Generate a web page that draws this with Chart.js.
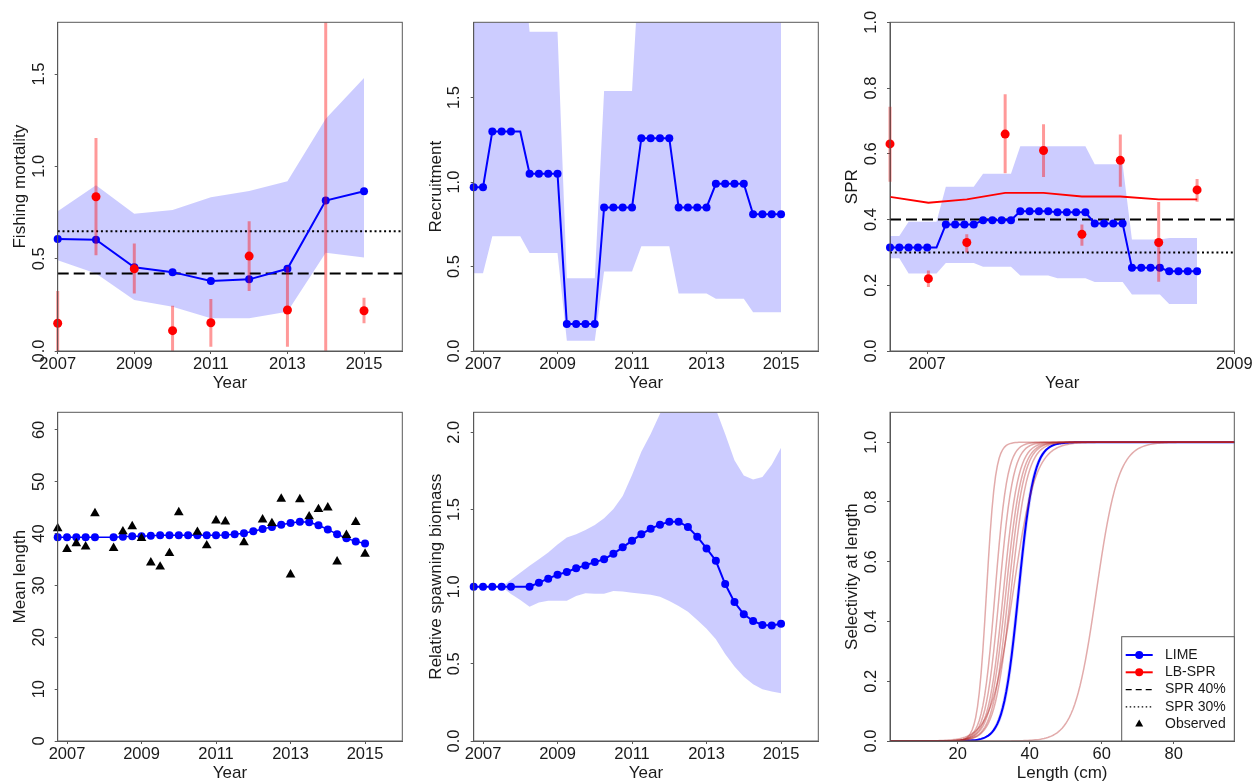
<!DOCTYPE html>
<html>
<head>
<meta charset="utf-8">
<script src="https://cdn.jsdelivr.net/npm/chart.js@4.4.1/dist/chart.umd.min.js"></script>
<style>
  html, body { margin: 0; padding: 0; background: #ffffff; width: 1255px; height: 782px; overflow: hidden; }
  canvas { position: absolute; }
</style>
</head>
<body>
<canvas id="cF"></canvas>
<canvas id="cRec"></canvas>
<canvas id="cSpr"></canvas>
<canvas id="cMl"></canvas>
<canvas id="cSb"></canvas>
<canvas id="cSel"></canvas>
<script>
// ---------- data ----------
const years = [2007, 2008, 2009, 2010, 2011, 2012, 2013, 2014, 2015];
const quarters = [2006.75, 2007, 2007.25, 2007.5, 2007.75, 2008, 2008.25, 2008.5, 2008.75, 2009,
  2009.25, 2009.5, 2009.75, 2010, 2010.25, 2010.5, 2010.75, 2011, 2011.25, 2011.5, 2011.75, 2012,
  2012.25, 2012.5, 2012.75, 2013, 2013.25, 2013.5, 2013.75, 2014, 2014.25, 2014.5, 2014.75, 2015];
const unmarkedQuarter = 6; // 1-based position of the quarter drawn without a marker
const yearTicks = [2007, 2009, 2011, 2013, 2015];
const yearTickLabels = ['2007', '2009', '2011', '2013', '2015'];

// Fishing mortality
const limeF   = [0.607, 0.603, 0.453, 0.427, 0.379, 0.388, 0.445, 0.815, 0.865];
const limeFLo = [0.492, 0.420, 0.276, 0.240, 0.177, 0.177, 0.213, 0.532, 0.507];
const limeFHi = [0.757, 0.898, 0.743, 0.763, 0.833, 0.867, 0.919, 1.258, 1.478];
const lbF     = [0.150, 0.835, 0.445, 0.110, 0.153, 0.514, 0.222, 2.400, 0.218];
const lbFLo   = [0.000, 0.519, 0.312, 0.000, 0.023, 0.325, 0.023, 0.000, 0.150];
const lbFHi   = [0.325, 1.154, 0.582, 0.245, 0.281, 0.703, 0.456, 5.000, 0.288];
const fAtSpr40 = 0.42;
const fAtSpr30 = 0.648;

// Recruitment (quarterly)
const recruit   = [0.97, 0.97, 1.30, 1.30, 1.30, 1.30, 1.05, 1.05, 1.05, 1.05, 0.16, 0.16, 0.16, 0.16,
  0.85, 0.85, 0.85, 0.85, 1.26, 1.26, 1.26, 1.26, 0.85, 0.85, 0.85, 0.85, 0.99, 0.99, 0.99, 0.99,
  0.81, 0.81, 0.81, 0.81];
const recruitHi = [2.5, 2.5, 2.5, 2.5, 2.5, 2.5, 1.89, 1.89, 1.89, 1.89, 0.43, 0.43, 0.43, 0.43,
  1.54, 1.54, 1.54, 1.54, 2.5, 2.5, 2.5, 2.5, 2.5, 2.5, 2.5, 2.5, 2.5, 2.5, 2.5, 2.5,
  2.5, 2.5, 2.5, 2.5];
const recruitLo = [0.46, 0.46, 0.68, 0.68, 0.68, 0.68, 0.58, 0.58, 0.58, 0.58, 0.06, 0.06, 0.06, 0.06,
  0.47, 0.47, 0.47, 0.47, 0.62, 0.62, 0.62, 0.62, 0.34, 0.34, 0.34, 0.34, 0.31, 0.31, 0.31, 0.31,
  0.23, 0.23, 0.23, 0.23];

// SPR (time step index axis)
const sprStep = [1, 2, 3, 4, 5, 6, 7, 8, 9, 10, 11, 12, 13, 14, 15, 16, 17, 18, 19, 20,
  21, 22, 23, 24, 25, 26, 27, 28, 29, 30, 31, 32, 33, 34];
const sprTickAt = [5, 38];
const sprTickLabels = ['2007', '2009'];
const limeSpr   = [0.315, 0.315, 0.315, 0.315, 0.315, 0.315, 0.385, 0.385, 0.385, 0.385,
  0.398, 0.398, 0.398, 0.398, 0.425, 0.425, 0.425, 0.425, 0.422, 0.422, 0.422, 0.422,
  0.388, 0.388, 0.388, 0.388, 0.253, 0.253, 0.253, 0.253, 0.243, 0.243, 0.243, 0.243];
const limeSprHi = [0.350, 0.350, 0.393, 0.393, 0.393, 0.393, 0.500, 0.500, 0.500, 0.500,
  0.539, 0.539, 0.539, 0.539, 0.623, 0.623, 0.623, 0.623, 0.623, 0.623, 0.623, 0.623,
  0.568, 0.568, 0.568, 0.568, 0.339, 0.339, 0.339, 0.339, 0.344, 0.344, 0.344, 0.344];
const limeSprLo = [0.282, 0.282, 0.236, 0.236, 0.236, 0.236, 0.268, 0.268, 0.268, 0.268,
  0.256, 0.256, 0.256, 0.256, 0.230, 0.230, 0.230, 0.230, 0.221, 0.221, 0.221, 0.221,
  0.210, 0.210, 0.210, 0.210, 0.172, 0.172, 0.172, 0.172, 0.143, 0.143, 0.143, 0.143];
const lbStep    = [1, 5.125, 9.25, 13.375, 17.5, 21.625, 25.75, 29.875, 34];
const lbSpr     = [0.630, 0.220, 0.330, 0.660, 0.610, 0.355, 0.580, 0.330, 0.490];
const lbSprLo   = [0.515, 0.195, 0.300, 0.541, 0.529, 0.320, 0.500, 0.211, 0.454];
const lbSprHi   = [0.743, 0.245, 0.355, 0.781, 0.690, 0.385, 0.659, 0.453, 0.523];
const lbSprLine = [0.469, 0.451, 0.461, 0.481, 0.481, 0.470, 0.470, 0.461, 0.461];
const spr40 = 0.40;
const spr30 = 0.30;

// Mean length (quarterly)
const limeMeanLen = [39.3, 39.3, 39.3, 39.3, 39.3, 39.3, 39.3, 39.4, 39.5, 39.5, 39.6, 39.7, 39.7,
  39.7, 39.7, 39.7, 39.7, 39.7, 39.75, 39.9, 40.06, 40.45, 40.9, 41.3, 41.7, 42.06, 42.3, 42.2,
  41.6, 40.8, 39.9, 39.1, 38.5, 38.1];
const obsMeanLen = [41.0, 37.0, 38.1, 37.5, 43.9, null, 37.2, 40.4, 41.4, 39.1, 34.4, 33.6, 36.2,
  44.1, null, 40.3, 37.7, 42.5, 42.3, null, 38.3, null, 42.7, 42.0, 46.7, 32.1, 46.6, 43.3,
  44.7, 45.0, 34.6, 39.7, 42.2, 36.1];

// Relative spawning biomass (quarterly)
const relSb   = [1.0, 1.0, 1.0, 1.0, 1.0, 1.0, 1.0, 1.026, 1.052, 1.078, 1.095, 1.119, 1.138, 1.16,
  1.177, 1.214, 1.255, 1.298, 1.339, 1.376, 1.402, 1.421, 1.421, 1.387, 1.324, 1.248, 1.168,
  1.017, 0.90, 0.821, 0.778, 0.752, 0.749, 0.76];
const relSbHi = [1.0, 1.0, 1.0, 1.0, 1.045, 1.09, 1.135, 1.177, 1.222, 1.274, 1.318, 1.34, 1.367,
  1.40, 1.443, 1.503, 1.587, 1.724, 1.875, 1.99, 2.12, 2.3, 2.4, 2.4, 2.4, 2.3, 2.15, 1.99, 1.82,
  1.72, 1.695, 1.71, 1.79, 1.90];
const relSbLo = [1.0, 1.0, 1.0, 1.0, 0.952, 0.914, 0.870, 0.898, 0.909, 0.909, 0.909, 0.94, 0.957,
  0.955, 0.955, 0.972, 0.968, 0.961, 0.955, 0.948, 0.935, 0.907, 0.875, 0.838, 0.784, 0.728,
  0.659, 0.564, 0.482, 0.417, 0.367, 0.335, 0.32, 0.309];

// Selectivity at length: logistic curves given by length at 50% and 95% selectivity
const lbSelS50 = [28.0, 30.4, 31.6, 32.7, 33.4, 34.1, 34.8, 58.5, 35.4];
const lbSelS95 = [31.6, 35.4, 37.2, 38.8, 39.8, 40.5, 41.5, 67.5, 44.5];
const limeSelS50 = 36.9, limeSelS95 = 43.1;
const limeSelS50Lo = 36.4, limeSelS50Hi = 37.4;
const lengthMin = 1, lengthMax = 97, lengthStep = 0.5;

const legendLabels = ['LIME', 'LB-SPR', 'SPR 40%', 'SPR 30%', 'Observed'];

// ---------- styling ----------
const BLUE = '#0000FF', RED = '#FF0000';
const BAND = 'rgba(0,0,255,0.2)', ERR = 'rgba(255,0,0,0.4)', SEL_RED = 'rgba(178,34,34,0.38)';
const FRAME = '#595959', TXT = '#1a1a1a';
const FONT = '"Liberation Sans", Arial, Helvetica, sans-serif';
Chart.defaults.font.family = FONT;
Chart.defaults.color = TXT;

// ---------- helpers ----------
const pts = (xs, ys) => xs.map((x, i) => ({ x, y: ys[i] }));
function errSegs(xs, lo, hi) {
  const out = [];
  xs.forEach((x, i) => { out.push({ x, y: lo[i] }, { x, y: hi[i] }, { x, y: null }); });
  return out;
}
const hline = (x0, x1, y) => [{ x: x0, y }, { x: x1, y }];

function bandSets(xs, hi, lo) {
  return [
    { data: pts(xs, hi), fill: '+1', backgroundColor: BAND, borderColor: 'transparent', borderWidth: 0, pointRadius: 0, clip: 0, order: 30 },
    { data: pts(xs, lo), fill: false, borderColor: 'transparent', borderWidth: 0, pointRadius: 0, clip: 0, order: 30 }
  ];
}
function limeSeries(xs, ys, width, radius, skipGap) {
  return {
    data: pts(xs, ys), borderColor: BLUE, borderWidth: width,
    pointRadius: c => (skipGap && c.dataIndex === unmarkedQuarter - 1) ? 0 : radius,
    pointBackgroundColor: BLUE, pointBorderWidth: 0, clip: false, order: 10
  };
}
function refLine(x0, x1, y, dash) {
  return { data: hline(x0, x1, y), borderColor: '#000', borderWidth: 2, borderDash: dash, pointRadius: 0, clip: 0, order: 20 };
}
function errSet(xs, lo, hi) {
  return { data: errSegs(xs, lo, hi), borderColor: ERR, borderWidth: 3, pointRadius: 0, spanGaps: false,
           clip: { left: false, top: 0, right: 0, bottom: 0 }, order: 4 };
}
function redPoints(xs, ys) {
  return { data: pts(xs, ys), showLine: false, pointRadius: 4.5, pointBackgroundColor: RED, pointBorderWidth: 0, clip: false, order: 2 };
}

function xAxis(min, max, tickVals, tickText, title) {
  return {
    type: 'linear', min, max,
    afterBuildTicks: s => { s.ticks = tickVals.map(v => ({ value: v })); },
    ticks: { autoSkip: false, maxRotation: 0, minRotation: 0, padding: 0.5, font: { size: 16.5 }, color: TXT,
             callback: (v, i) => tickText[i] },
    grid: { drawOnChartArea: false, drawTicks: true, tickLength: 3, color: FRAME },
    border: { display: true, color: FRAME, width: 1 },
    title: { display: true, text: title, font: { size: 17 }, color: TXT, padding: { top: 0, bottom: 2.8 } },
    afterFit: s => { s.height = 45; }
  };
}
function yAxis(min, max, tickVals, tickText, title, width, pad) {
  return {
    type: 'linear', min, max,
    afterBuildTicks: s => { s.ticks = tickVals.map(v => ({ value: v })); },
    ticks: { autoSkip: false, minRotation: 90, maxRotation: 90, crossAlign: 'center', padding: pad,
             font: { size: 16.5 }, color: TXT, callback: (v, i) => tickText[i] },
    grid: { drawOnChartArea: false, drawTicks: true, tickLength: 3, color: FRAME },
    border: { display: true, color: FRAME, width: 1 },
    title: { display: true, text: title, font: { size: 17 }, color: TXT, padding: { top: 10.5, bottom: 0 } },
    afterFit: s => { s.width = width; }
  };
}

const frame = {
  id: 'frame',
  afterDraw(chart) {
    const { ctx, chartArea: a } = chart;
    ctx.save();
    ctx.strokeStyle = FRAME;
    ctx.lineWidth = 1;
    ctx.strokeRect(a.left, a.top, a.right - a.left, a.bottom - a.top);
    ctx.restore();
  }
};

function makeChart(id, pos, datasets, xOpt, yOpt, extra) {
  const cv = document.getElementById(id);
  cv.width = pos.w; cv.height = pos.h;
  cv.style.left = pos.left + 'px'; cv.style.top = pos.top + 'px';
  cv.style.width = pos.w + 'px'; cv.style.height = pos.h + 'px';
  return new Chart(cv, {
    type: 'line',
    data: { datasets },
    options: {
      responsive: false, animation: false, events: [], devicePixelRatio: 1,
      layout: { padding: { top: pos.padTop, right: pos.padRight, left: 0, bottom: 0 } },
      plugins: { legend: { display: false }, tooltip: { enabled: false } },
      scales: { x: xOpt, y: yOpt }
    },
    plugins: [frame].concat(extra || [])
  });
}

const col = [0, 416, 832];
const row = [0, 390];
const panel = (c, r) => ({ left: col[c], top: row[r], w: c === 2 ? 423 : 416, h: 396,
  padTop: 22.3, padRight: c === 2 ? 20.7 : 13.7 });

// ---------- 1: fishing mortality ----------
makeChart('cF', panel(0, 0), [
  ...bandSets(years, limeFHi, limeFLo),
  refLine(2007, 2016, fAtSpr30, [2, 2.8]),
  refLine(2007, 2016, fAtSpr40, [11, 5]),
  limeSeries(years, limeF, 2, 4, false),
  errSet(years, lbFLo, lbFHi),
  redPoints(years, lbF)
], xAxis(2007, 2016, yearTicks, yearTickLabels, 'Year'),
   yAxis(0, 1.78, [0, 0.5, 1.0, 1.5], ['0.0', '0.5', '1.0', '1.5'], 'Fishing mortality', 57.7, 3.6));

// ---------- 2: recruitment ----------
makeChart('cRec', panel(1, 0), [
  ...bandSets(quarters, recruitHi, recruitLo),
  limeSeries(quarters, recruit, 2, 4, true)
], xAxis(2006.75, 2016, yearTicks, yearTickLabels, 'Year'),
   yAxis(0, 1.946, [0, 0.5, 1.0, 1.5], ['0.0', '0.5', '1.0', '1.5'], 'Recruitment', 57.7, 4.5));

// ---------- 3: SPR ----------
makeChart('cSpr', panel(2, 0), [
  ...bandSets(sprStep, limeSprHi, limeSprLo),
  refLine(1, 38, spr40, [11, 5]),
  refLine(1, 38, spr30, [2, 2.8]),
  { data: pts(lbStep, lbSprLine), borderColor: RED, borderWidth: 1.8, pointRadius: 0, clip: 0, order: 15 },
  limeSeries(sprStep, limeSpr, 2, 4, true),
  errSet(lbStep, lbSprLo, lbSprHi),
  redPoints(lbStep, lbSpr)
], xAxis(1, 38, sprTickAt, sprTickLabels, 'Year'),
   yAxis(0, 1.0, [0, 0.2, 0.4, 0.6, 0.8, 1.0], ['0.0', '0.2', '0.4', '0.6', '0.8', '1.0'], 'SPR', 58, 4.2));

// ---------- 4: mean length ----------
makeChart('cMl', panel(0, 1), [
  limeSeries(quarters, limeMeanLen, 1.5, 4, true),
  { data: pts(quarters, obsMeanLen), showLine: false, pointStyle: 'triangle', pointRadius: 5.6,
    pointBackgroundColor: '#000', pointBorderWidth: 0, clip: false, order: 1 }
], xAxis(2006.75, 2016, yearTicks, yearTickLabels, 'Year'),
   yAxis(0, 63.4, [0, 10, 20, 30, 40, 50, 60], ['0', '10', '20', '30', '40', '50', '60'], 'Mean length', 57.7, 6));

// ---------- 5: relative spawning biomass ----------
makeChart('cSb', panel(1, 1), [
  ...bandSets(quarters, relSbHi, relSbLo),
  limeSeries(quarters, relSb, 2, 4, true)
], xAxis(2006.75, 2016, yearTicks, yearTickLabels, 'Year'),
   yAxis(0, 2.13, [0, 0.5, 1.0, 1.5, 2.0], ['0.0', '0.5', '1.0', '1.5', '2.0'], 'Relative spawning biomass', 57.7, 4.5));

// ---------- 6: selectivity at length ----------
const lengths = [];
for (let L = lengthMin; L <= lengthMax + 1e-9; L += lengthStep) lengths.push(L);
const logistic = (s50, s95) => lengths.map(L => 1 / (1 + Math.exp(-Math.log(19) * (L - s50) / (s95 - s50))));
const limeWidth = limeSelS95 - limeSelS50;

const selSets = [
  { data: pts(lengths, logistic(limeSelS50Lo, limeSelS50Lo + limeWidth)), fill: '+1', backgroundColor: BAND,
    borderColor: 'transparent', borderWidth: 0, pointRadius: 0, clip: 0, order: 30 },
  { data: pts(lengths, logistic(limeSelS50Hi, limeSelS50Hi + limeWidth)), fill: false,
    borderColor: 'transparent', borderWidth: 0, pointRadius: 0, clip: 0, order: 30 },
  { data: pts(lengths, logistic(limeSelS50, limeSelS95)), borderColor: BLUE, borderWidth: 2, pointRadius: 0, clip: 0, order: 12 }
];
lbSelS50.forEach((s50, i) => {
  selSets.push({ data: pts(lengths, logistic(s50, lbSelS95[i])), borderColor: SEL_RED, borderWidth: 1.5,
                 pointRadius: 0, clip: 0, order: 8 });
});

const selLegend = {
  id: 'selLegend',
  afterDraw(chart) {
    const { ctx, chartArea: a } = chart;
    const w = 112.6, h = 104.3;
    const x0 = a.right - w, y0 = a.bottom - h;
    ctx.save();
    ctx.fillStyle = '#ffffff';
    ctx.fillRect(x0, y0, w, h);
    ctx.strokeStyle = FRAME; ctx.lineWidth = 1;
    ctx.strokeRect(x0, y0, w, h);
    ctx.font = '14px ' + FONT;
    ctx.textBaseline = 'middle';
    ctx.textAlign = 'left';
    legendLabels.forEach((label, i) => {
      const y = y0 + 18.3 + i * 17.3;
      const sx0 = x0 + 4, sx1 = x0 + 31, cx = x0 + 17.5;
      ctx.setLineDash([]);
      if (i <= 1) {
        const c = i === 0 ? BLUE : RED;
        ctx.strokeStyle = c; ctx.lineWidth = 2;
        ctx.beginPath(); ctx.moveTo(sx0, y); ctx.lineTo(sx1, y); ctx.stroke();
        ctx.fillStyle = c;
        ctx.beginPath(); ctx.arc(cx, y, 4, 0, Math.PI * 2); ctx.fill();
      } else if (i <= 3) {
        ctx.strokeStyle = '#000'; ctx.lineWidth = 1.3;
        ctx.setLineDash(i === 2 ? [6, 4] : [1.5, 2.5]);
        ctx.beginPath(); ctx.moveTo(sx0, y); ctx.lineTo(sx1, y); ctx.stroke();
        ctx.setLineDash([]);
      } else {
        ctx.fillStyle = '#000';
        const r = 4.6;
        ctx.beginPath();
        ctx.moveTo(cx, y - r);
        ctx.lineTo(cx + r * 0.866, y + r / 2);
        ctx.lineTo(cx - r * 0.866, y + r / 2);
        ctx.closePath(); ctx.fill();
      }
      ctx.fillStyle = TXT;
      ctx.fillText(label, x0 + 43.3, y);
    });
    ctx.restore();
  }
};

makeChart('cSel', panel(2, 1), selSets,
  xAxis(1.2, 96.8, [20, 40, 60, 80], ['20', '40', '60', '80'], 'Length (cm)'),
  yAxis(0, 1.1, [0, 0.2, 0.4, 0.6, 0.8, 1.0], ['0.0', '0.2', '0.4', '0.6', '0.8', '1.0'], 'Selectivity at length', 58, 4.2),
  [selLegend]);
</script>
</body>
</html>
